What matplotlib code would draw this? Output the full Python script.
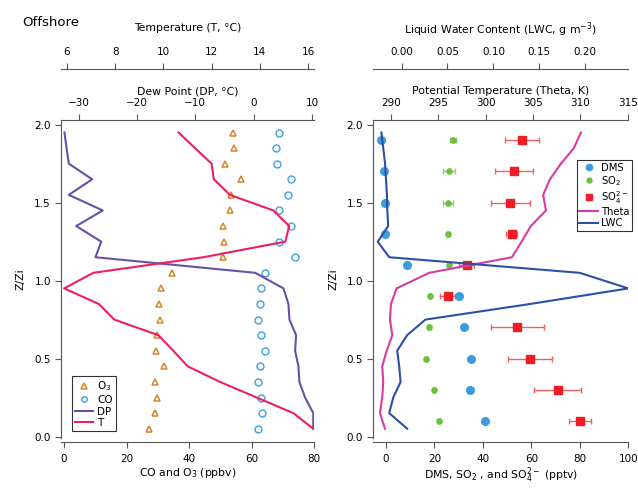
import numpy as np
import matplotlib
matplotlib.use('Agg')
import matplotlib.pyplot as plt
from matplotlib.ticker import FormatStrFormatter

plt.rcParams['font.family'] = ['DejaVu Sans']
plt.rcParams['font.size'] = 7.5

# ---- left panel data (top to bottom) ----
z_left = [1.95, 1.85, 1.75, 1.65, 1.55, 1.45, 1.35, 1.25, 1.15, 1.05,
          0.95, 0.85, 0.75, 0.65, 0.55, 0.45, 0.35, 0.25, 0.15, 0.05]
o3 = [54.2, 54.5, 51.4, 56.5, 53.3, 53.0, 51.0, 51.3, 51.0, 34.6,
      31.1, 30.4, 30.7, 29.8, 29.5, 32.1, 29.0, 29.7, 29.2, 27.3]
co = [68.7, 67.7, 68.1, 72.6, 71.7, 68.9, 72.5, 68.8, 73.8, 64.4,
      63.1, 62.6, 62.0, 63.1, 64.2, 62.6, 62.1, 63.1, 63.4, 62.2]
temp = [10.63, 11.31, 12.0, 12.09, 12.76, 14.56, 15.22, 15.06, 11.66, 7.09,
        5.88, 7.32, 7.96, 9.79, 10.41, 11.01, 12.35, 13.87, 15.39, 16.22]
dewp = [-32.4, -32.05, -31.66, -27.66, -31.66, -25.85, -30.4, -26.1, -27.1, 0.26,
        5.1, 5.95, 6.12, 7.26, 7.09, 7.66, 7.83, 8.8, 10.2, 10.2]

# ---- right panel data ----
z_right = [1.9, 1.7, 1.5, 1.3, 1.1, 0.9, 0.7, 0.5, 0.3, 0.1]
dms = [-2.1, -0.8, -0.3, -0.4, 8.5, 30.3, 32.2, 35.2, 34.5, 40.7]
dms_err = [0, 0, 0, 0, 1.5, 1.0, 1.5, 0.8, 1.0, 0]
so2 = [27.7, 26.1, 25.6, 25.7, 25.9, 18.2, 17.9, 16.5, 19.9, 22.0]
so2_err = [1.4, 2.6, 1.9, 0.3, 0.3, 0.3, 0.5, 0.5, 0.5, 0.5]
so4 = [56.0, 52.7, 51.3, 51.9, 33.3, 25.5, 54.2, 59.3, 70.9, 80.1]
so4_err = [7.0, 7.8, 8.0, 2.2, 3.2, 3.2, 11.0, 9.1, 9.8, 4.7]
theta = [310.06, 309.32, 307.95, 306.79, 306.08, 306.37, 304.78, 303.8, 302.78, 294.04,
         290.6, 290.0, 289.9, 290.14, 289.55, 289.08, 289.19, 289.08, 288.84, 289.37]
lwc = [-0.022, -0.020, -0.018, -0.017, -0.016, -0.0155, -0.0146, -0.026, -0.0135, 0.194,
       0.247, 0.14, 0.026, 0.006, -0.0048, -0.0026, -0.0011, -0.0091, -0.0135, 0.0061]

c_o3 = '#D4862A'
c_co = '#3FA0E0'
c_dp = '#6A4FA8'
c_t = '#EE1F5E'
c_dms = '#3A9CDB'
c_so2 = '#6CBF3F'
c_so4 = '#EE1C24'
c_theta = '#D93CA0'
c_lwc = '#2D4FA8'
c_ax = '#555555'

PX = 72.0 / 100  # points per pixel
LBL = 7.8

fig = plt.figure(figsize=(6.38, 4.9), dpi=100)

def style_main(ax):
	for s in ['top', 'right']:
		ax.spines[s].set_visible(False)
	ax.spines['bottom'].set_position(('outward', 4 * PX))
	ax.spines['left'].set_color(c_ax)
	ax.spines['bottom'].set_color(c_ax)
	ax.set_ylim(-0.01, 2.03)
	ax.set_yticks([0.0, 0.5, 1.0, 1.5, 2.0])
	ax.yaxis.set_major_formatter(FormatStrFormatter('%.1f'))
	ax.tick_params(axis='both', direction='out', length=6 * PX, width=0.8, color=c_ax, labelsize=7.5, pad=3)
	ax.tick_params(axis='x', pad=4)
	ax.set_ylabel('Z/Zi', fontsize=LBL, labelpad=6)

def style_top(axt, outward):
	for s in ['bottom', 'left', 'right']:
		axt.spines[s].set_visible(False)
	axt.spines['top'].set_position(('outward', outward * PX))
	axt.spines['top'].set_color(c_ax)
	axt.tick_params(axis='x', direction='out', length=6 * PX, width=0.8, color=c_ax, labelsize=7.5, pad=4)
	axt.xaxis.set_label_position('top')

# ---------------- left panel ----------------
ax = fig.add_axes([0.0956, 0.106, 0.3966, 0.649])
style_main(ax)
ax.set_xlim(-0.96, 80)
ax.set_xticks([0, 20, 40, 60, 80])
h_o3, = ax.plot(o3, z_left, ls='none', marker='^', ms=5, mfc='none', mec=c_o3, mew=1.1)
h_co, = ax.plot(co, z_left, ls='none', marker='o', ms=5, mfc='none', mec=c_co, mew=1.0)
ax.set_xlabel('CO and O$_3$ (ppbv)', fontsize=LBL, labelpad=2)

ax_dp = ax.twiny()
style_top(ax_dp, 0)
ax_dp.set_xlim(-33, 10.33)
ax_dp.set_xticks([-30, -20, -10, 0, 10])
h_dp, = ax_dp.plot(dewp, z_left, color=c_dp, lw=1.5)
ax_dp.set_xlabel('Dew Point (DP, °C)', fontsize=LBL, labelpad=3)

ax_t = ax.twiny()
style_top(ax_t, 51)
ax_t.set_xlim(5.75, 16.25)
ax_t.set_xticks([6, 8, 10, 12, 14, 16])
h_t, = ax_t.plot(temp, z_left, color=c_t, lw=1.5)
ax_t.set_xlabel('Temperature (T, °C)', fontsize=LBL, labelpad=12)
ax_t.set_ylim(-0.01, 2.03)

leg = ax_t.legend([h_o3, h_co, h_dp, h_t], ['O$_3$', 'CO', 'DP', 'T'],
	loc='lower left', bbox_to_anchor=(0.113, 0.12), bbox_transform=fig.transFigure,
	fontsize=7.5, frameon=True, fancybox=False, handlelength=1.7, handletextpad=0.4,
	borderpad=0.3, labelspacing=0.15, borderaxespad=0)
leg.get_frame().set_edgecolor('black')
leg.get_frame().set_linewidth(0.8)
leg.legend_handles[0].set_markersize(4)
leg.legend_handles[1].set_markersize(4)

fig.text(0.035, 0.955, 'Offshore', fontsize=9.5, ha='left', va='center')

# ---------------- right panel ----------------
ax2 = fig.add_axes([0.585, 0.106, 0.3997, 0.649])
style_main(ax2)
ax2.set_xlim(-5.24, 100)
ax2.set_xticks([0, 20, 40, 60, 80, 100])
ax2.errorbar(so2, z_right, xerr=so2_err, fmt='none', ecolor='#8DD070', elinewidth=1, capsize=2, capthick=1)
ax2.errorbar(so4, z_right, xerr=so4_err, fmt='none', ecolor='#F06060', elinewidth=1, capsize=2.5, capthick=1)
ax2.errorbar(dms, z_right, xerr=dms_err, fmt='none', ecolor='#80C0EA', elinewidth=1, capsize=0)
h_dms, = ax2.plot(dms, z_right, ls='none', marker='o', ms=5.5, color=c_dms)
h_so2, = ax2.plot(so2, z_right, ls='none', marker='o', ms=3.8, color=c_so2)
h_so4, = ax2.plot(so4, z_right, ls='none', marker='s', ms=5.5, color=c_so4)
ax2.set_xlabel('DMS, SO$_2$ , and SO$_4^{2-}$ (pptv)', fontsize=LBL, labelpad=1)

ax_th = ax2.twiny()
style_top(ax_th, 0)
ax_th.set_xlim(288.13, 315.06)
ax_th.set_xticks([290, 295, 300, 305, 310, 315])
h_th, = ax_th.plot(theta, z_left, color=c_theta, lw=1.5)
ax_th.set_xlabel('Potential Temperature (Theta, K)', fontsize=LBL, labelpad=3)

ax_l = ax2.twiny()
style_top(ax_l, 51)
ax_l.set_xlim(-0.0309, 0.2469)
ax_l.set_xticks([0.0, 0.05, 0.10, 0.15, 0.20])
ax_l.xaxis.set_major_formatter(FormatStrFormatter('%.2f'))
h_lwc, = ax_l.plot(lwc, z_left, color=c_lwc, lw=1.5)
ax_l.set_xlabel('Liquid Water Content (LWC, g m$^{-3}$)', fontsize=LBL, labelpad=10)
ax_l.set_ylim(-0.01, 2.03)

leg2 = ax_l.legend([h_dms, h_so2, h_so4, h_th, h_lwc], ['DMS', 'SO$_2$', 'SO$_4^{2-}$', 'Theta', 'LWC'],
	loc='upper left', bbox_to_anchor=(0.904, 0.673), bbox_transform=fig.transFigure,
	fontsize=7.2, frameon=True, fancybox=False, handlelength=1.9, handletextpad=0.3,
	borderpad=0.25, labelspacing=0.12, borderaxespad=0)
leg2.get_frame().set_edgecolor('black')
leg2.get_frame().set_linewidth(0.8)
leg2.legend_handles[0].set_markersize(4.5)
leg2.legend_handles[1].set_markersize(3.5)
leg2.legend_handles[2].set_markersize(4.5)

fig.savefig('out.png', dpi=100)
